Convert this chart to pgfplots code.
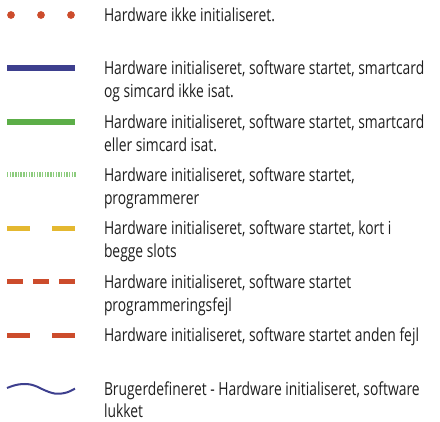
\documentclass[border=0pt]{standalone}
\usepackage{fontspec}
\setmainfont[FakeStretch=0.77]{Open Sans}
\usepackage{pgfplots}
\pgfplotsset{compat=1.18}
\definecolor{cRed}{HTML}{CC4C2C}
\definecolor{cBlue}{HTML}{3D3F8E}
\definecolor{cGreen}{HTML}{5CAE48}
\definecolor{cLGreen}{HTML}{8DCC7E}
\definecolor{cYellow}{HTML}{E4B830}
\definecolor{cText}{HTML}{1E1E1E}
\tikzset{lbl/.style={font=\fontsize{18pt}{22pt}\selectfont, text=cText, anchor=base west, inner sep=0pt, outer sep=0pt}}
\begin{document}
\begin{tikzpicture}
\begin{axis}[
  width=440pt, height=422pt, scale only axis,
  xmin=0, xmax=440, ymin=0, ymax=422, y dir=reverse,
  hide axis, clip=false,
]
% fix the picture's extent to the full axis area
\path (axis cs:0,0) rectangle (axis cs:440,422);
% entry 1: dots
\addplot[only marks, mark=*, mark size=3.6pt, color=cRed] coordinates {(11,15) (41,15) (71,15)};
% entry 2: solid blue
\addplot[line width=6pt, color=cBlue] coordinates {(7,68) (75,68)};
% entry 3: solid green
\addplot[line width=6pt, color=cGreen] coordinates {(7,122) (75,122)};
% entry 4: fine dotted green
\addplot[line width=5pt, color=cLGreen, dash pattern=on 1.4pt off 1.3pt] coordinates {(7,175) (76,175)};
% entry 5: yellow long dash
\addplot[line width=5pt, color=cYellow, dash pattern=on 23pt off 22pt] coordinates {(7,228.5) (76,228.5)};
% entry 6: red dash
\addplot[line width=5pt, color=cRed, dash pattern=on 16pt off 10pt] coordinates {(7,282) (75,282)};
% entry 7: red long dash
\addplot[line width=5pt, color=cRed, dash pattern=on 23pt off 22pt] coordinates {(7,335.5) (76,335.5)};
% entry 8: wave
\addplot[line width=2pt, color=cBlue, smooth] coordinates {(7,388) (13,385.8) (19,384.4) (25,384) (31,384.6) (37,386.6) (43,389.5) (49,392) (55,393.6) (61,393.6) (67,392.4) (72,390.2) (75,388.6)};

\node[lbl] at (axis cs:104,21.5) {Hardware ikke initialiseret.};
\node[lbl] at (axis cs:104,75) {Hardware initialiseret, software startet, smartcard};
\node[lbl] at (axis cs:104,98) {og simcard ikke isat.};
\node[lbl] at (axis cs:104,128.5) {Hardware initialiseret, software startet, smartcard};
\node[lbl] at (axis cs:104,151.5) {eller simcard isat.};
\node[lbl] at (axis cs:104,181.5) {Hardware initialiseret, software startet,};
\node[lbl] at (axis cs:104,204.5) {programmerer};
\node[lbl] at (axis cs:104,235) {Hardware initialiseret, software startet, kort i};
\node[lbl] at (axis cs:104,258) {begge slots};
\node[lbl] at (axis cs:104,288.5) {Hardware initialiseret, software startet};
\node[lbl] at (axis cs:104,311.5) {programmeringsfejl};
\node[lbl] at (axis cs:104,342) {Hardware initialiseret, software startet anden fejl};
\node[lbl] at (axis cs:104,395.5) {Brugerdefineret - Hardware initialiseret, software};
\node[lbl] at (axis cs:104,417.5) {lukket};
\end{axis}
\end{tikzpicture}
\end{document}
